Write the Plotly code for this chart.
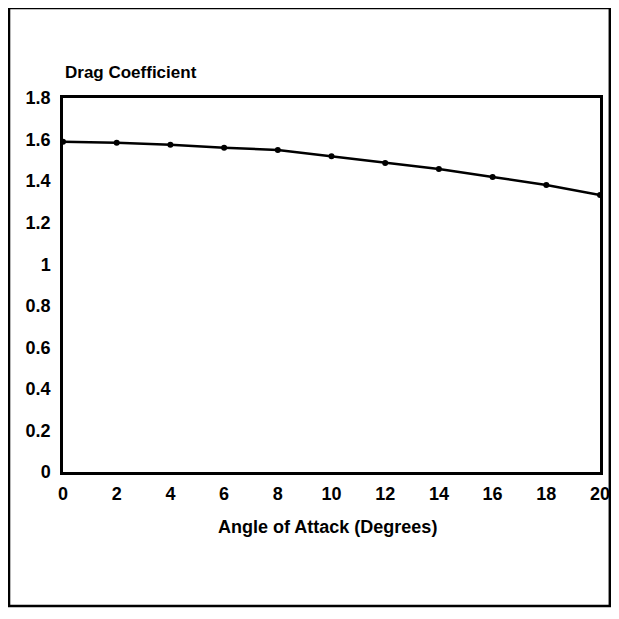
import plotly.graph_objects as go

angle = [0, 2, 4, 6, 8, 10, 12, 14, 16, 18, 20]
drag = [1.59, 1.585, 1.575, 1.56, 1.55, 1.52, 1.487, 1.458, 1.42, 1.381, 1.333]

x_ticks = [0, 2, 4, 6, 8, 10, 12, 14, 16, 18, 20]
y_ticks = [0, 0.2, 0.4, 0.6, 0.8, 1, 1.2, 1.4, 1.6, 1.8]

font_family = "Liberation Sans, Arial, sans-serif"
bold = {"family": font_family, "color": "black", "weight": "bold"}

axis_settings = {
    "showgrid": False,
    "zeroline": False,
    "showline": True,
    "linecolor": "black",
    "linewidth": 2.5,
    "mirror": True,
    "ticks": "",
    "tickfont": {"size": 18, **bold},
}

fig = go.Figure(
    go.Scatter(
        x=angle,
        y=drag,
        mode="lines+markers",
        line={"color": "black", "width": 2.5},
        marker={"color": "black", "size": 6},
        cliponaxis=False,
        showlegend=False,
    )
)

fig.update_xaxes(range=[0, 20], tickvals=x_ticks, ticklabelstandoff=4, **axis_settings)
fig.update_yaxes(range=[0, 1.8], tickvals=y_ticks, ticklabelstandoff=6, **axis_settings)

fig.add_annotation(
    text="Drag Coefficient",
    xref="paper", yref="paper",
    x=0, y=1.067,
    xanchor="left", yanchor="middle",
    showarrow=False,
    font={"size": 17, **bold},
)
fig.add_annotation(
    text="Angle of Attack (Degrees)",
    xref="paper", yref="paper",
    x=0.4926, y=-0.147,
    xanchor="center", yanchor="middle",
    showarrow=False,
    font={"size": 18, **bold},
)

# outer frame around the whole figure
fig.add_shape(
    type="rect",
    xref="paper", yref="paper",
    x0=-0.1005, x1=1.0183,
    y0=-0.3583, y1=1.2406,
    line={"color": "black", "width": 2.5},
)

fig.update_layout(
    width=613,
    height=600,
    margin={"l": 55, "r": 11, "t": 90, "b": 136},
    paper_bgcolor="white",
    plot_bgcolor="white",
)

fig.write_html("out.html")
